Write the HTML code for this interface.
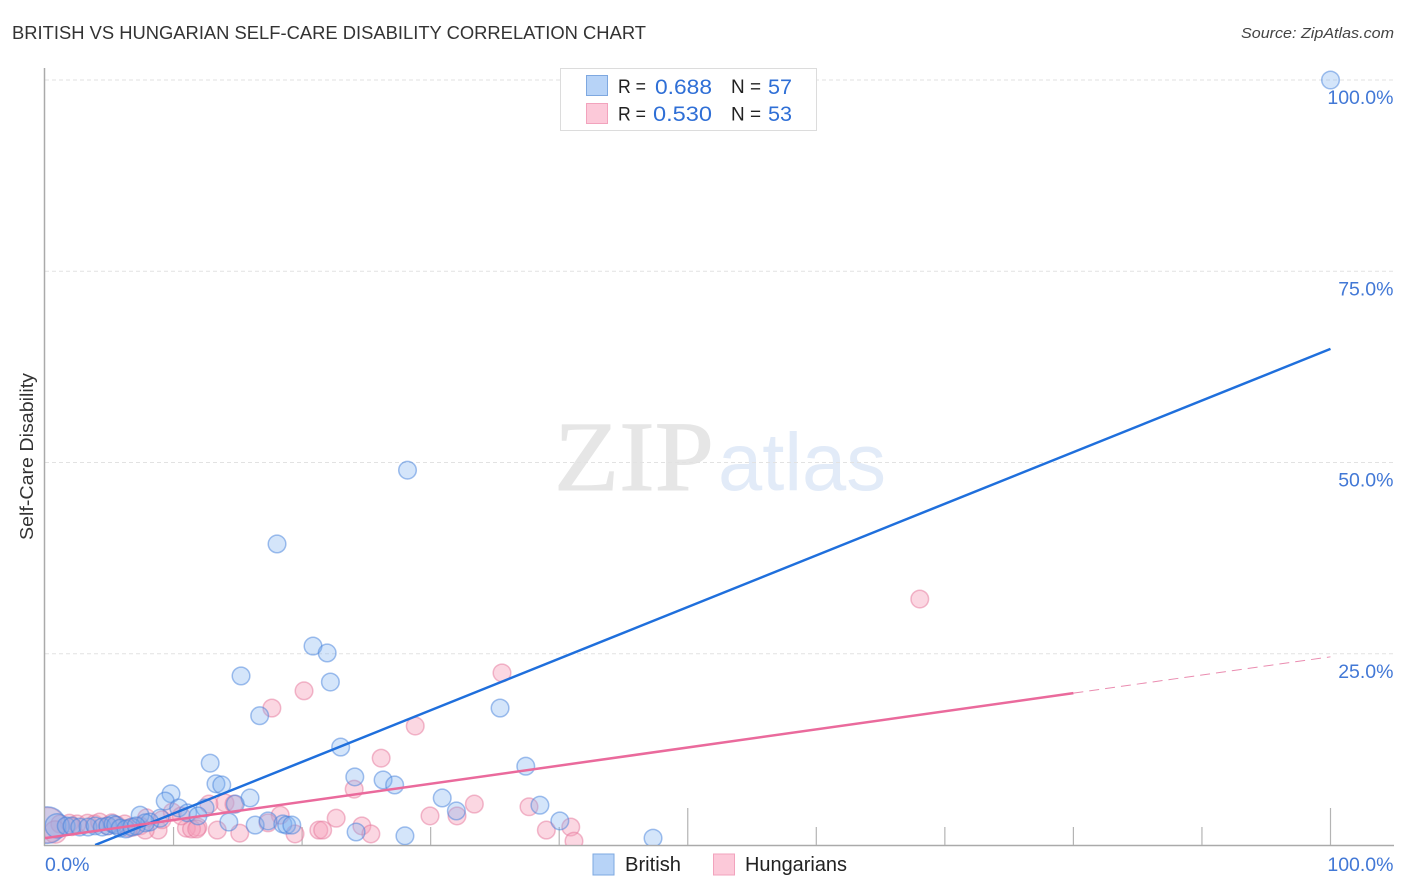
<!DOCTYPE html>
<html>
<head>
<meta charset="utf-8">
<title>British vs Hungarian Self-Care Disability Correlation Chart</title>
<style>
html,body{margin:0;padding:0;background:#fff;width:1406px;height:892px;overflow:hidden}
svg{display:block;font-family:"Liberation Sans",sans-serif}
</style>
</head>
<body>
<svg id="chart" width="1406" height="892" viewBox="0 0 1406 892" xmlns="http://www.w3.org/2000/svg">
  <defs><clipPath id="plot-clip"><rect x="45" y="64" width="1349" height="781"/></clipPath></defs>
  <text x="12" y="39" font-size="18.5" fill="#333" textLength="634" lengthAdjust="spacingAndGlyphs">BRITISH VS HUNGARIAN SELF-CARE DISABILITY CORRELATION CHART</text>
  <text x="1394" y="38" font-size="15" font-style="italic" fill="#444" text-anchor="end" textLength="153" lengthAdjust="spacingAndGlyphs">Source: ZipAtlas.com</text>
  <g>
    <text x="554" y="490" font-family="'Liberation Serif',serif" font-size="100" fill="#e6e6e6" stroke="#e6e6e6" stroke-width="1" textLength="160" lengthAdjust="spacingAndGlyphs">ZIP</text>
    <text x="718" y="490" font-size="82" fill="#e2ebf8" textLength="168" lengthAdjust="spacingAndGlyphs">atlas</text>
  </g>
  <g id="grid"></g>
  <g id="axes"></g>
  <g id="marks" clip-path="url(#plot-clip)"></g>
  <text transform="translate(33,456.5) rotate(-90)" font-size="18" fill="#333" text-anchor="middle" textLength="167" lengthAdjust="spacingAndGlyphs">Self-Care Disability</text>

  <g>
    <rect x="560.5" y="68.5" width="256" height="62" fill="#fff" stroke="#dcdcdc"/>
    <rect x="586.5" y="75.5" width="21" height="20" fill="#b7d3f7" stroke="#7ea8e0"/>
    <rect x="586.5" y="103.5" width="21" height="20" fill="#fcc9d9" stroke="#f2a3bd"/>
    <g font-size="19.5" fill="#222">
      <text x="618" y="93" textLength="28" lengthAdjust="spacingAndGlyphs">R =</text>
      <text x="731" y="93" textLength="30" lengthAdjust="spacingAndGlyphs">N =</text>
      <text x="618" y="120.5" textLength="28" lengthAdjust="spacingAndGlyphs">R =</text>
      <text x="731" y="120.5" textLength="30" lengthAdjust="spacingAndGlyphs">N =</text>
    </g>
    <g font-size="21" fill="#2f6fd6">
      <text x="655" y="94" textLength="57" lengthAdjust="spacingAndGlyphs">0.688</text>
      <text x="768" y="94" textLength="24" lengthAdjust="spacingAndGlyphs">57</text>
      <text x="653" y="121" textLength="59" lengthAdjust="spacingAndGlyphs">0.530</text>
      <text x="768" y="121" textLength="24" lengthAdjust="spacingAndGlyphs">53</text>
    </g>
  </g>

  <g>
    <g>
      <rect x="593" y="854" width="21" height="21" fill="#b7d3f7" stroke="#7ea8e0"/>
      <text x="625" y="871" font-size="20" fill="#222" textLength="56" lengthAdjust="spacingAndGlyphs">British</text>
    </g>
    <g>
      <rect x="713.5" y="854" width="21" height="21" fill="#fcc9d9" stroke="#f2a3bd"/>
      <text x="745" y="871" font-size="20" fill="#222" textLength="102" lengthAdjust="spacingAndGlyphs">Hungarians</text>
    </g>
  </g>
</svg>
<script>
var yTickValues = [100, 75, 50, 25];
var yTickLabels = ["100.0%", "75.0%", "50.0%", "25.0%"];
var xTickValues = [10, 20, 30, 40, 50, 60, 70, 80, 90, 100];
var xMajorTicks = [50, 100];
var xEndLabels = ["0.0%", "100.0%"];

var britishX = [100, 28.2, 18.05, 20.85, 21.95, 22.2, 15.25, 16.7, 35.4, 23, 12.85, 37.4, 24.1, 26.3, 27.2, 13.3, 13.75, 9.8, 9.35, 15.95, 30.9, 14.8, 38.5, 32, 12.45, 10.4, 7.4, 11.1, 11.9, 8.95, 40.05, 14.3, 16.35, 17.35, 18.5, 18.8, 19.2, 24.2, 28, 47.3, 8.15, 7.8, 0.2, 0.95, 1.65, 2.1, 2.7, 3.35, 3.9, 4.45, 4.9, 5.3, 5.5, 5.85, 6.3, 6.75, 7.1];
var britishY = [100, 49, 39.35, 26, 25.1, 21.3, 22.1, 16.9, 17.9, 12.8, 10.7, 10.3, 8.9, 8.5, 7.85, 8, 7.85, 6.7, 5.75, 6.15, 6.15, 5.35, 5.2, 4.45, 4.85, 4.85, 3.9, 4.2, 3.8, 3.5, 3.15, 3, 2.6, 3.15, 2.75, 2.6, 2.6, 1.7, 1.2, 0.9, 3, 2.9, 2.6, 2.5, 2.5, 2.5, 2.35, 2.35, 2.5, 2.35, 2.5, 2.75, 2.6, 2.2, 2.1, 2.35, 2.5];
var britishWeight = [1, 1, 1, 1, 1, 1, 1, 1, 1, 1, 1, 1, 1, 1, 1, 1, 1, 1, 1, 1, 1, 1, 1, 1, 1, 1, 1, 1, 1, 1, 1, 1, 1, 1, 1, 1, 1, 1, 1, 1, 1, 1, 4.3, 1.9, 1, 1, 1, 1, 1, 1, 1, 1, 1, 1, 1, 1, 1];

var hungarianX = [68.05, 35.55, 20.15, 17.65, 28.8, 26.15, 24.05, 33.4, 37.65, 22.65, 29.95, 32.05, 40.9, 39, 41.15, 24.65, 25.35, 21.3, 21.6, 19.45, 18.3, 17.35, 15.15, 14, 12.75, 14.7, 13.4, 11.9, 11, 11.4, 11.8, 9.9, 8.8, 7.9, 9.1, 10.6, 0.2, 1.15, 1.9, 2.5, 3.3, 3.85, 4.25, 4.85, 5.6, 6.2, 6.9, 7.4, 7.8, 5.2, 0.8, 2.1, 6.5];
var hungarianY = [32.15, 22.5, 20.15, 17.9, 15.55, 11.35, 7.3, 5.35, 5, 3.5, 3.8, 3.8, 2.35, 1.95, 0.5, 2.5, 1.45, 1.95, 1.95, 1.45, 3.9, 2.9, 1.55, 5.5, 5.35, 5.35, 1.95, 2.35, 2.2, 2.1, 2.1, 4.3, 1.95, 3.55, 3.3, 3.8, 2.6, 2.75, 2.85, 2.75, 2.85, 2.75, 3, 2.5, 2.6, 2.75, 2.35, 2.5, 1.95, 2.9, 1.7, 2.4, 2.2];
var hungarianWeight = [1, 1, 1, 1, 1, 1, 1, 1, 1, 1, 1, 1, 1, 1, 1, 1, 1, 1, 1, 1, 1, 1, 1, 1, 1, 1, 1, 1, 1, 1, 1, 1, 1, 1, 1, 1, 4, 1, 1, 1, 1, 1, 1, 1, 1, 1, 1, 1, 1, 1, 1.6, 1, 1];

var britishTrendX = [3.9, 100];
var britishTrendY = [0, 64.85];
var hungarianTrendX = [0, 80];
var hungarianTrendY = [0.9, 19.85];
var hungarianForecastX = [80, 100];
var hungarianForecastY = [19.85, 24.6];

var NS = "http://www.w3.org/2000/svg";
function xPos(v) { return 45 + v * 12.855; }
function yPos(v) { return 845 - v * 7.65; }
function radius(w) { return 8.8 * Math.sqrt(w); }
function make(tag, attrs, parent) {
  var el = document.createElementNS(NS, tag);
  for (var k in attrs) el.setAttribute(k, attrs[k]);
  parent.appendChild(el);
  return el;
}
var grid = document.getElementById("grid");
var axes = document.getElementById("axes");
var marks = document.getElementById("marks");

yTickValues.forEach(function (v, i) {
  var line = make("line", {x1: 45, x2: 1394, y1: yPos(v), y2: yPos(v), stroke: "#e2e2e2", "stroke-width": 1, "stroke-dasharray": "4 3"}, grid);
  
  
  var label = make("text", {x: 1393.5, y: yPos(v) + 24, "font-size": 19.5, fill: "#4278d6", "text-anchor": "end"}, axes);
  label.textContent = yTickLabels[i];
  
  
});

var yAxis = make("line", {x1: 44.5, x2: 44.5, y1: 68, y2: 846, stroke: "#aaa", "stroke-width": 1.5}, axes);


var xAxis = make("line", {x1: 44, x2: 1394, y1: 845.5, y2: 845.5, stroke: "#aaa", "stroke-width": 1.5}, axes);



xTickValues.forEach(function (v) {
  var top = xMajorTicks.indexOf(v) >= 0 ? 808 : 827;
  var tick = make("line", {x1: xPos(v), x2: xPos(v), y1: top, y2: 845, stroke: "#b4b4b4", "stroke-width": 1.2}, axes);
  
  
});

var xLabelLeft = make("text", {x: 45, y: 871, "font-size": 19.5, fill: "#4278d6"}, axes);
xLabelLeft.textContent = xEndLabels[0];


var xLabelRight = make("text", {x: 1393.5, y: 871, "font-size": 19.5, fill: "#4278d6", "text-anchor": "end"}, axes);
xLabelRight.textContent = xEndLabels[1];



hungarianX.forEach(function (v, i) {
  var c = make("circle", {cx: xPos(v), cy: yPos(hungarianY[i]), r: radius(hungarianWeight[i]), fill: "rgba(245,160,185,0.42)", stroke: "rgba(230,120,155,0.5)", "stroke-width": 1.5}, marks);
  
  
});
britishX.forEach(function (v, i) {
  var c = make("circle", {cx: xPos(v), cy: yPos(britishY[i]), r: radius(britishWeight[i]), fill: "rgba(125,175,240,0.33)", stroke: "rgba(70,130,220,0.5)", "stroke-width": 1.5}, marks);
  
  
});

var britishTrend = make("line", {x1: xPos(britishTrendX[0]), y1: yPos(britishTrendY[0]), x2: xPos(britishTrendX[1]), y2: yPos(britishTrendY[1]), stroke: "#1f6fdc", "stroke-width": 2.5}, marks);


var hungarianTrend = make("line", {x1: xPos(hungarianTrendX[0]), y1: yPos(hungarianTrendY[0]), x2: xPos(hungarianTrendX[1]), y2: yPos(hungarianTrendY[1]), stroke: "#ea6a9c", "stroke-width": 2.5}, marks);


var hungarianForecast = make("line", {x1: xPos(hungarianForecastX[0]), y1: yPos(hungarianForecastY[0]), x2: xPos(hungarianForecastX[1]), y2: yPos(hungarianForecastY[1]), stroke: "#ea8cb0", "stroke-width": 1, "stroke-dasharray": "10 6"}, marks);


</script>
</body>
</html>
